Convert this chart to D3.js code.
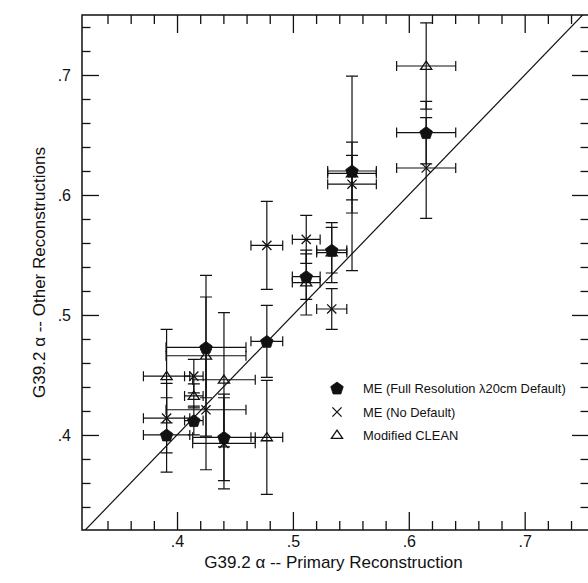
<!DOCTYPE html>
<html>
<head>
<meta charset="utf-8">
<script src="https://cdn.jsdelivr.net/npm/d3@7/dist/d3.min.js"></script>
<style>
  html, body { margin: 0; padding: 0; background: #fff; }
  svg { display: block; }
  text { font-family: "Liberation Sans", Arial, Helvetica, sans-serif; fill: #111; }
</style>
</head>
<body>
<script>
// ---------- data ----------
const primary      = [0.391, 0.4145, 0.425, 0.4405, 0.4775, 0.5115, 0.5335, 0.551, 0.615];
const primaryErr   = [0.020, 0.008, 0.0345, 0.027, 0.0137, 0.012, 0.013, 0.021, 0.0255];

const meFull       = [0.400, 0.412, 0.473, 0.398, 0.478, 0.532, 0.554, 0.620, 0.652];
const meFullErr    = [0.031, 0.012, 0.042, 0.036, 0.030, 0.019, 0.019, 0.024, 0.026];

const meNoDef      = [0.414, 0.449, 0.421, 0.393, 0.558, 0.563, 0.505, 0.609, 0.6225];
const meNoDefErr   = [0.029, 0.014, 0.050, 0.038, 0.0367, 0.020, 0.017, 0.024, 0.042];

const clean        = [0.449, 0.4325, 0.466, 0.446, 0.398, 0.527, 0.552, 0.618, 0.7075];
const cleanErr     = [0.039, 0.010, 0.067, 0.056, 0.0475, 0.027, 0.025, 0.081, 0.036];

const seriesNames  = ["ME (Full Resolution \u03bb20cm Default)", "ME (No Default)", "Modified CLEAN"];
const majorTicks   = [0.4, 0.5, 0.6, 0.7];
const tickLabels   = [".4", ".5", ".6", ".7"];
const minorTicks   = [0.34, 0.36, 0.38, 0.42, 0.44, 0.46, 0.48, 0.52, 0.54, 0.56, 0.58,
                      0.62, 0.64, 0.66, 0.68, 0.72, 0.74];
const xTitle = "G39.2 \u03b1 -- Primary Reconstruction";
const yTitle = "G39.2 \u03b1 -- Other Reconstructions";

// ---------- layout ----------
const W = 588, H = 583;
const L = 82, T = 15, R = 589, B = 530;

const x = d3.scaleLinear().domain([0.318, 0.7555]).range([L, R]);
const y = d3.scaleLinear().domain([0.3208, 0.75]).range([B, T]);

const svg = d3.select("body").append("svg").attr("width", W).attr("height", H);

const labelOf = d => tickLabels[majorTicks.indexOf(d)] || "";

// axes: major & minor, ticks pointing inward
function styleAxis(g) {
  g.select(".domain").remove();
  g.selectAll(".tick line").attr("stroke", "#111").attr("stroke-width", 1.3);
}
// bottom
svg.append("g").attr("transform", `translate(0,${B})`)
  .call(d3.axisBottom(x).tickValues(majorTicks).tickSize(-18).tickPadding(6).tickFormat(labelOf))
  .call(styleAxis)
  .call(g => g.selectAll("text").attr("font-size", 16).attr("dy", null).attr("y", 17));
svg.append("g").attr("transform", `translate(0,${B})`)
  .call(d3.axisBottom(x).tickValues(minorTicks).tickSize(-9).tickFormat(""))
  .call(styleAxis);
// top
svg.append("g").attr("transform", `translate(0,${T})`)
  .call(d3.axisTop(x).tickValues(majorTicks).tickSize(-18).tickFormat(""))
  .call(styleAxis);
svg.append("g").attr("transform", `translate(0,${T})`)
  .call(d3.axisTop(x).tickValues(minorTicks).tickSize(-9).tickFormat(""))
  .call(styleAxis);
// left
svg.append("g").attr("transform", `translate(${L},0)`)
  .call(d3.axisLeft(y).tickValues(majorTicks).tickSize(-17).tickPadding(10).tickFormat(labelOf))
  .call(styleAxis)
  .call(g => g.selectAll("text").attr("font-size", 16).attr("x", -11).attr("dy", "0.36em"));
svg.append("g").attr("transform", `translate(${L},0)`)
  .call(d3.axisLeft(y).tickValues(minorTicks).tickSize(-8.5).tickFormat(""))
  .call(styleAxis);
// right
svg.append("g").attr("transform", `translate(${R},0)`)
  .call(d3.axisRight(y).tickValues(majorTicks).tickSize(-17).tickFormat(""))
  .call(styleAxis);
svg.append("g").attr("transform", `translate(${R},0)`)
  .call(d3.axisRight(y).tickValues(minorTicks).tickSize(-8.5).tickFormat(""))
  .call(styleAxis);

// frame
svg.append("rect").attr("x", L).attr("y", T).attr("width", R - L).attr("height", B - T)
  .attr("fill", "none").attr("stroke", "#111").attr("stroke-width", 1.5);

// diagonal y = x
svg.append("clipPath").attr("id", "plotclip").append("rect")
  .attr("x", L).attr("y", T).attr("width", R - L).attr("height", B - T);
const diag = [0.30, 0.80];
svg.append("line").attr("clip-path", "url(#plotclip)")
  .attr("x1", x(diag[0])).attr("y1", y(diag[0]))
  .attr("x2", x(diag[1])).attr("y2", y(diag[1]))
  .attr("stroke", "#111").attr("stroke-width", 1.2);

// titles
svg.append("text").attr("x", (L + R) / 2 - 2).attr("y", 568).attr("text-anchor", "middle")
  .attr("font-size", 17).text(xTitle);
svg.append("text").attr("transform", `translate(45,${(T + B) / 2}) rotate(-90)`)
  .attr("text-anchor", "middle").attr("font-size", 17).text(yTitle);

// ---------- data marks ----------
const series = [
  { name: seriesNames[0], vals: meFull,  errs: meFullErr,  shape: "pentagon" },
  { name: seriesNames[1], vals: meNoDef, errs: meNoDefErr, shape: "cross" },
  { name: seriesNames[2], vals: clean,   errs: cleanErr,   shape: "triangle" }
];

const capY = 6, capX = 5;
const gBars = svg.append("g").attr("stroke", "#111").attr("stroke-width", 1.2).attr("fill", "none");
series.forEach(s => {
  s.vals.forEach((v, i) => {
    const cx = x(primary[i]), cy = y(v);
    const x0 = x(primary[i] - primaryErr[i]), x1 = x(primary[i] + primaryErr[i]);
    const y0 = y(v - s.errs[i]), y1 = y(v + s.errs[i]);
    const p = d3.path();
    p.moveTo(x0, cy); p.lineTo(x1, cy);
    p.moveTo(x0, cy - capX); p.lineTo(x0, cy + capX);
    p.moveTo(x1, cy - capX); p.lineTo(x1, cy + capX);
    p.moveTo(cx, y0); p.lineTo(cx, y1);
    p.moveTo(cx - capY, y0); p.lineTo(cx + capY, y0);
    p.moveTo(cx - capY, y1); p.lineTo(cx + capY, y1);
    gBars.append("path").attr("d", p.toString());
  });
});

function markerPath(shape, r) {
  const p = d3.path();
  if (shape === "pentagon") {
    for (let k = 0; k < 5; k++) {
      const a = -Math.PI / 2 + k * 2 * Math.PI / 5;
      const px = r * Math.cos(a), py = r * Math.sin(a) + r * 0.1;
      if (k === 0) p.moveTo(px, py); else p.lineTo(px, py);
    }
    p.closePath();
  } else if (shape === "triangle") {
    p.moveTo(0, -r * 0.85); p.lineTo(r, r * 0.6); p.lineTo(-r, r * 0.6); p.closePath();
  } else {
    p.moveTo(-r, -r); p.lineTo(r, r); p.moveTo(-r, r); p.lineTo(r, -r);
  }
  return p.toString();
}
function drawMarker(g, shape, cx, cy) {
  if (shape === "pentagon") {
    g.append("path").attr("d", markerPath("pentagon", 6.6)).attr("transform", `translate(${cx},${cy})`)
      .attr("fill", "#111").attr("stroke", "#111").attr("stroke-width", 0.8);
  } else if (shape === "triangle") {
    g.append("path").attr("d", markerPath("triangle", 5.6)).attr("transform", `translate(${cx},${cy})`)
      .attr("fill", "none").attr("stroke", "#111").attr("stroke-width", 1.3);
  } else {
    g.append("path").attr("d", markerPath("cross", 4.6)).attr("transform", `translate(${cx},${cy})`)
      .attr("fill", "none").attr("stroke", "#111").attr("stroke-width", 1.3);
  }
}

const gMarks = svg.append("g");
[series[2], series[1], series[0]].forEach(s => {
  s.vals.forEach((v, i) => drawMarker(gMarks, s.shape, x(primary[i]), y(v)));
});

// ---------- legend ----------
const legend = svg.append("g");
const legendY = [388, 412, 435];
series.forEach((s, i) => {
  drawMarker(legend, s.shape, 337, legendY[i]);
  legend.append("text").attr("x", 363).attr("y", legendY[i]).attr("dy", "0.36em")
    .attr("font-size", 12.9).text(s.name);
});
</script>
</body>
</html>
